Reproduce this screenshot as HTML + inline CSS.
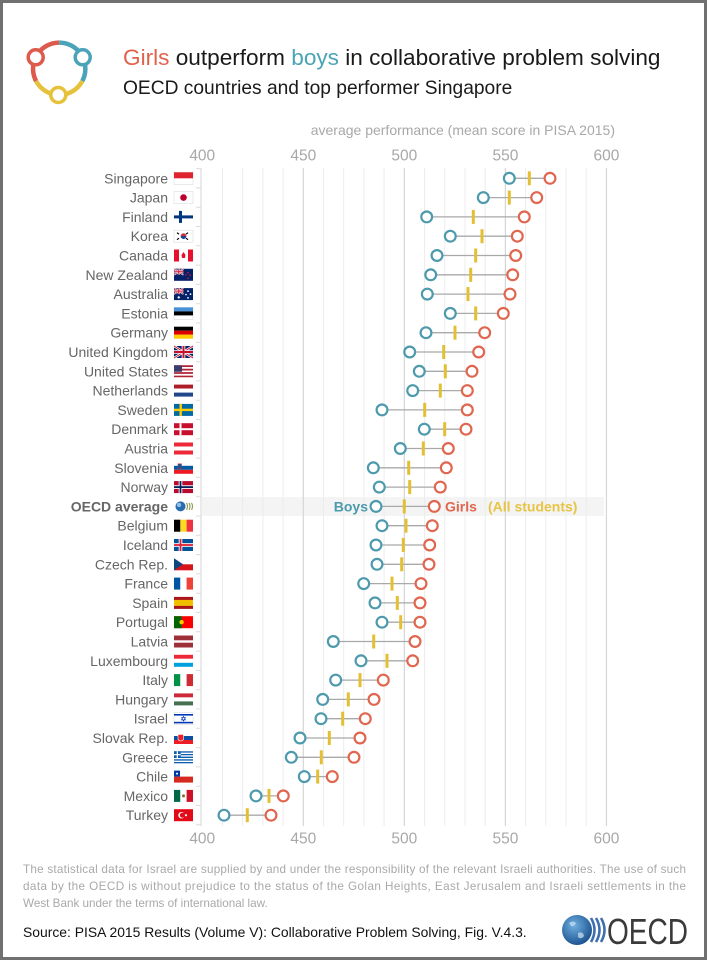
<!DOCTYPE html>
<html><head><meta charset="utf-8"><style>
html,body{margin:0;padding:0;background:#fff;}
body{width:707px;height:960px;overflow:hidden;}
svg{display:block;font-family:"Liberation Sans",Arial,sans-serif;}
.lb{font-size:14px;fill:#666;text-anchor:end;}
.ax{font-size:15.5px;fill:#a8a8a8;text-anchor:middle;}
.gm{stroke:#ececec;stroke-width:1;}
.gM{stroke:#d6d6d6;stroke-width:1.2;}
.cn{stroke:#a9a9a9;stroke-width:1.3;}
.b{fill:#fff;stroke:#4d9aad;stroke-width:2.2;}
.g{fill:#fff;stroke:#e0664f;stroke-width:2.2;}
.m{fill:#e3bf33;}
</style></head><body>
<svg width="707" height="960" viewBox="0 0 707 960" xmlns="http://www.w3.org/2000/svg">
<rect x="1.5" y="1.5" width="704" height="957" fill="#fff" stroke="#707070" stroke-width="3"/>

<!-- logo -->
<g fill="none" stroke-width="4.5">
<path d="M36.1,81.1 A26.2,26.2 0 0 1 59.2,42.6" stroke="#dd5a4c"/>
<path d="M59.2,42.6 A26.2,26.2 0 0 1 82.3,81.1" stroke="#4aa3b8"/>
<path d="M82.3,81.1 A26.2,26.2 0 0 1 36.1,81.1" stroke="#e5c23a"/>
</g>
<circle cx="35.7" cy="57.3" r="7.5" fill="#fff" stroke="#dd5a4c" stroke-width="3.5"/>
<circle cx="82.7" cy="57.3" r="7.5" fill="#fff" stroke="#4aa3b8" stroke-width="3.5"/>
<circle cx="58.3" cy="95" r="7.5" fill="#fff" stroke="#e5c23a" stroke-width="3.5"/>

<!-- titles -->
<text x="123" y="65" font-size="22.6" fill="#1a1a1a"><tspan fill="#e0624c">Girls</tspan> outperform <tspan fill="#4ba3b6">boys</tspan> in collaborative problem solving</text>
<text x="123" y="94" font-size="19.2" fill="#1a1a1a">OECD countries and top performer Singapore</text>

<text x="615" y="135" font-size="14" fill="#a8a8a8" text-anchor="end">average performance (mean score in PISA 2015)</text>
<text class="ax" x="202.25" y="160.5">400</text>
<text class="ax" x="303.3" y="160.5">450</text>
<text class="ax" x="404.35" y="160.5">500</text>
<text class="ax" x="505.4" y="160.5">550</text>
<text class="ax" x="606.45" y="160.5">600</text>
<text class="ax" x="202.25" y="843.5">400</text>
<text class="ax" x="303.3" y="843.5">450</text>
<text class="ax" x="404.35" y="843.5">500</text>
<text class="ax" x="505.4" y="843.5">550</text>
<text class="ax" x="606.45" y="843.5">600</text>

<!-- OECD band -->
<rect x="202" y="497" width="402" height="19" fill="#f4f4f4"/>

<!-- grid -->
<g>
<line class="gm" x1="222.46" y1="168" x2="222.46" y2="826"/>
<line class="gm" x1="242.67" y1="168" x2="242.67" y2="826"/>
<line class="gm" x1="262.88" y1="168" x2="262.88" y2="826"/>
<line class="gm" x1="283.09" y1="168" x2="283.09" y2="826"/>
<line class="gM" x1="303.3" y1="168" x2="303.3" y2="826"/>
<line class="gm" x1="323.5" y1="168" x2="323.5" y2="826"/>
<line class="gm" x1="343.7" y1="168" x2="343.7" y2="826"/>
<line class="gm" x1="363.9" y1="168" x2="363.9" y2="826"/>
<line class="gm" x1="384.1" y1="168" x2="384.1" y2="826"/>
<line class="gM" x1="404.35" y1="168" x2="404.35" y2="826"/>
<line class="gm" x1="424.6" y1="168" x2="424.6" y2="826"/>
<line class="gm" x1="444.8" y1="168" x2="444.8" y2="826"/>
<line class="gm" x1="465" y1="168" x2="465" y2="826"/>
<line class="gm" x1="485.2" y1="168" x2="485.2" y2="826"/>
<line class="gM" x1="505.4" y1="168" x2="505.4" y2="826"/>
<line class="gm" x1="525.6" y1="168" x2="525.6" y2="826"/>
<line class="gm" x1="545.8" y1="168" x2="545.8" y2="826"/>
<line class="gm" x1="566" y1="168" x2="566" y2="826"/>
<line class="gm" x1="586.2" y1="168" x2="586.2" y2="826"/>
<line class="gM" x1="606.45" y1="168" x2="606.45" y2="826"/>
<line x1="201" y1="168" x2="201" y2="826" stroke="#dcdcdc" stroke-width="1.2"/>
<path stroke="#dcdcdc" stroke-width="1" d="M196,168.6H201M196,187.9H201M196,207.2H201M196,226.5H201M196,245.8H201M196,265.1H201M196,284.4H201M196,303.7H201M196,323H201M196,342.3H201M196,361.6H201M196,380.9H201M196,400.2H201M196,419.5H201M196,438.8H201M196,458.1H201M196,477.4H201M196,496.7H201M196,516H201M196,535.3H201M196,554.6H201M196,573.9H201M196,593.2H201M196,612.5H201M196,631.8H201M196,651.1H201M196,670.4H201M196,689.7H201M196,709H201M196,728.3H201M196,747.6H201M196,766.9H201M196,786.2H201M196,805.5H201M196,824.8H201"/>
</g>

<!-- rows -->
<g transform="translate(0,178.3)"><text class="lb" x="168" y="5">Singapore</text>
<g transform="translate(174,-6)"><rect width="19" height="12" fill="#fff" stroke="#ddd" stroke-width="0.6"/><rect width="19" height="6" fill="#e0242f"/></g>
<line class="cn" x1="509.3" y1="0" x2="550" y2="0"/><rect class="m" x="527.8" y="-7" width="3" height="14"/><circle class="b" cx="509.3" cy="0" r="5.4"/><circle class="g" cx="550" cy="0" r="5.4"/></g>

<g transform="translate(0,197.6)"><text class="lb" x="168" y="5">Japan</text>
<g transform="translate(174,-6)"><rect width="19" height="12" fill="#fff" stroke="#ddd" stroke-width="0.6"/><circle cx="9.5" cy="6" r="3.3" fill="#bc002d"/></g>
<line class="cn" x1="483.3" y1="0" x2="536.7" y2="0"/><rect class="m" x="507.8" y="-7" width="3" height="14"/><circle class="b" cx="483.3" cy="0" r="5.4"/><circle class="g" cx="536.7" cy="0" r="5.4"/></g>

<g transform="translate(0,216.9)"><text class="lb" x="168" y="5">Finland</text>
<g transform="translate(174,-6)"><rect width="19" height="12" fill="#fff"/><rect y="4.5" width="19" height="3" fill="#003580"/><rect x="5" width="3" height="12" fill="#003580"/></g>
<line class="cn" x1="426.7" y1="0" x2="524.3" y2="0"/><rect class="m" x="471.8" y="-7" width="3" height="14"/><circle class="b" cx="426.7" cy="0" r="5.4"/><circle class="g" cx="524.3" cy="0" r="5.4"/></g>

<g transform="translate(0,236.2)"><text class="lb" x="168" y="5">Korea</text>
<g transform="translate(174,-6)"><rect width="19" height="12" fill="#fff" stroke="#ddd" stroke-width="0.6"/><circle cx="9.5" cy="6" r="2.8" fill="#0047a0"/><path d="M6.7,6A2.8,2.8 0 0 1 12.3,6Z" fill="#cd2e3a"/><path d="M3,2.5l2,1.5M14,2.5l-2,1.5M3,9.5l2,-1.5M14,9.5l-2,-1.5" stroke="#000" stroke-width="1.2"/></g>
<line class="cn" x1="450.3" y1="0" x2="517.3" y2="0"/><rect class="m" x="480.5" y="-7" width="3" height="14"/><circle class="b" cx="450.3" cy="0" r="5.4"/><circle class="g" cx="517.3" cy="0" r="5.4"/></g>

<g transform="translate(0,255.5)"><text class="lb" x="168" y="5">Canada</text>
<g transform="translate(174,-6)"><rect width="19" height="12" fill="#fff"/><rect width="5" height="12" fill="#e8112d"/><rect x="14" width="5" height="12" fill="#e8112d"/><path d="M9.5,2.5L11.5,5.5L11,8.5H8L7.5,5.5Z" fill="#e8112d"/></g>
<line class="cn" x1="437" y1="0" x2="515.7" y2="0"/><rect class="m" x="474.2" y="-7" width="3" height="14"/><circle class="b" cx="437" cy="0" r="5.4"/><circle class="g" cx="515.7" cy="0" r="5.4"/></g>

<g transform="translate(0,274.8)"><text class="lb" x="168" y="5">New Zealand</text>
<g transform="translate(174,-6)"><rect width="19" height="12" fill="#012169"/><rect width="9.5" height="6" fill="#012169"/><path d="M0,0L9.5,6M9.5,0L0,6" stroke="#fff" stroke-width="1.6"/><path d="M0,0L9.5,6M9.5,0L0,6" stroke="#c8102e" stroke-width="0.6"/><path d="M4.75,0V6M0,3H9.5" stroke="#fff" stroke-width="2"/><path d="M4.75,0V6M0,3H9.5" stroke="#c8102e" stroke-width="1"/><circle cx="14" cy="4" r="0.9" fill="#c8102e"/><circle cx="16" cy="6.5" r="0.9" fill="#c8102e"/><circle cx="14" cy="9.5" r="0.9" fill="#c8102e"/><circle cx="12" cy="6" r="0.8" fill="#c8102e"/></g>
<line class="cn" x1="430.7" y1="0" x2="512.7" y2="0"/><rect class="m" x="469.2" y="-7" width="3" height="14"/><circle class="b" cx="430.7" cy="0" r="5.4"/><circle class="g" cx="512.7" cy="0" r="5.4"/></g>

<g transform="translate(0,294.1)"><text class="lb" x="168" y="5">Australia</text>
<g transform="translate(174,-6)"><rect width="19" height="12" fill="#012169"/><path d="M0,0L9.5,6M9.5,0L0,6" stroke="#fff" stroke-width="1.6"/><path d="M0,0L9.5,6M9.5,0L0,6" stroke="#c8102e" stroke-width="0.6"/><path d="M4.75,0V6M0,3H9.5" stroke="#fff" stroke-width="2"/><path d="M4.75,0V6M0,3H9.5" stroke="#c8102e" stroke-width="1"/><circle cx="14" cy="3" r="0.9" fill="#fff"/><circle cx="16.5" cy="6" r="0.9" fill="#fff"/><circle cx="14" cy="9.8" r="0.9" fill="#fff"/><circle cx="12" cy="6.5" r="0.8" fill="#fff"/><circle cx="4.75" cy="9.3" r="1.2" fill="#fff"/></g>
<line class="cn" x1="427.3" y1="0" x2="510" y2="0"/><rect class="m" x="466.5" y="-7" width="3" height="14"/><circle class="b" cx="427.3" cy="0" r="5.4"/><circle class="g" cx="510" cy="0" r="5.4"/></g>

<g transform="translate(0,313.4)"><text class="lb" x="168" y="5">Estonia</text>
<g transform="translate(174,-6)"><rect width="19" height="12" fill="#fff" stroke="#ddd" stroke-width="0.6"/><rect width="19" height="4" fill="#4891d9"/><rect y="4" width="19" height="4" fill="#000"/></g>
<line class="cn" x1="450.3" y1="0" x2="503.3" y2="0"/><rect class="m" x="474.2" y="-7" width="3" height="14"/><circle class="b" cx="450.3" cy="0" r="5.4"/><circle class="g" cx="503.3" cy="0" r="5.4"/></g>

<g transform="translate(0,332.7)"><text class="lb" x="168" y="5">Germany</text>
<g transform="translate(174,-6)"><rect width="19" height="4" fill="#000"/><rect y="4" width="19" height="4" fill="#dd0000"/><rect y="8" width="19" height="4" fill="#ffce00"/></g>
<line class="cn" x1="426" y1="0" x2="484.7" y2="0"/><rect class="m" x="453.5" y="-7" width="3" height="14"/><circle class="b" cx="426" cy="0" r="5.4"/><circle class="g" cx="484.7" cy="0" r="5.4"/></g>

<g transform="translate(0,352)"><text class="lb" x="168" y="5">United Kingdom</text>
<g transform="translate(174,-6)"><rect width="19" height="12" fill="#012169"/><path d="M0,0L19,12M19,0L0,12" stroke="#fff" stroke-width="2.4"/><path d="M0,0L19,12M19,0L0,12" stroke="#c8102e" stroke-width="0.9"/><path d="M9.5,0V12M0,6H19" stroke="#fff" stroke-width="3.6"/><path d="M9.5,0V12M0,6H19" stroke="#c8102e" stroke-width="2"/></g>
<line class="cn" x1="409.7" y1="0" x2="478.7" y2="0"/><rect class="m" x="442.2" y="-7" width="3" height="14"/><circle class="b" cx="409.7" cy="0" r="5.4"/><circle class="g" cx="478.7" cy="0" r="5.4"/></g>

<g transform="translate(0,371.3)"><text class="lb" x="168" y="5">United States</text>
<g transform="translate(174,-6)"><rect width="19" height="12" fill="#fff"/><path d="M0,0.85H19M0,4.3H19M0,7.7H19M0,11.15H19" stroke="#b22234" stroke-width="1.7"/><rect width="8" height="6.5" fill="#3c3b6e"/></g>
<line class="cn" x1="419.3" y1="0" x2="472" y2="0"/><rect class="m" x="443.8" y="-7" width="3" height="14"/><circle class="b" cx="419.3" cy="0" r="5.4"/><circle class="g" cx="472" cy="0" r="5.4"/></g>

<g transform="translate(0,390.6)"><text class="lb" x="168" y="5">Netherlands</text>
<g transform="translate(174,-6)"><rect width="19" height="4" fill="#ae1c28"/><rect y="4" width="19" height="4" fill="#fff"/><rect y="8" width="19" height="4" fill="#21468b"/></g>
<line class="cn" x1="412.7" y1="0" x2="467.3" y2="0"/><rect class="m" x="438.8" y="-7" width="3" height="14"/><circle class="b" cx="412.7" cy="0" r="5.4"/><circle class="g" cx="467.3" cy="0" r="5.4"/></g>

<g transform="translate(0,409.9)"><text class="lb" x="168" y="5">Sweden</text>
<g transform="translate(174,-6)"><rect width="19" height="12" fill="#006aa7"/><rect y="4.8" width="19" height="2.4" fill="#fecc00"/><rect x="5.5" width="2.4" height="12" fill="#fecc00"/></g>
<line class="cn" x1="382" y1="0" x2="467.3" y2="0"/><rect class="m" x="423.2" y="-7" width="3" height="14"/><circle class="b" cx="382" cy="0" r="5.4"/><circle class="g" cx="467.3" cy="0" r="5.4"/></g>

<g transform="translate(0,429.2)"><text class="lb" x="168" y="5">Denmark</text>
<g transform="translate(174,-6)"><rect width="19" height="12" fill="#c8102e"/><rect y="5" width="19" height="2" fill="#fff"/><rect x="5.5" width="2" height="12" fill="#fff"/></g>
<line class="cn" x1="424.3" y1="0" x2="466" y2="0"/><rect class="m" x="443.2" y="-7" width="3" height="14"/><circle class="b" cx="424.3" cy="0" r="5.4"/><circle class="g" cx="466" cy="0" r="5.4"/></g>

<g transform="translate(0,448.5)"><text class="lb" x="168" y="5">Austria</text>
<g transform="translate(174,-6)"><rect width="19" height="12" fill="#ed2939"/><rect y="4" width="19" height="4" fill="#fff"/></g>
<line class="cn" x1="400.3" y1="0" x2="448.3" y2="0"/><rect class="m" x="421.8" y="-7" width="3" height="14"/><circle class="b" cx="400.3" cy="0" r="5.4"/><circle class="g" cx="448.3" cy="0" r="5.4"/></g>

<g transform="translate(0,467.8)"><text class="lb" x="168" y="5">Slovenia</text>
<g transform="translate(174,-6)"><rect width="19" height="4" fill="#fff"/><rect y="4" width="19" height="4" fill="#005da4"/><rect y="8" width="19" height="4" fill="#ed1c24"/><rect x="4" y="2" width="3.5" height="4.5" fill="#005da4" stroke="#ed1c24" stroke-width="0.5"/></g>
<line class="cn" x1="373.3" y1="0" x2="446.3" y2="0"/><rect class="m" x="407.2" y="-7" width="3" height="14"/><circle class="b" cx="373.3" cy="0" r="5.4"/><circle class="g" cx="446.3" cy="0" r="5.4"/></g>

<g transform="translate(0,487.1)"><text class="lb" x="168" y="5">Norway</text>
<g transform="translate(174,-6)"><rect width="19" height="12" fill="#ba0c2f"/><rect y="4.2" width="19" height="3.6" fill="#fff"/><rect x="4.7" width="3.6" height="12" fill="#fff"/><rect y="5.1" width="19" height="1.8" fill="#00205b"/><rect x="5.6" width="1.8" height="12" fill="#00205b"/></g>
<line class="cn" x1="379.3" y1="0" x2="440.3" y2="0"/><rect class="m" x="408.2" y="-7" width="3" height="14"/><circle class="b" cx="379.3" cy="0" r="5.4"/><circle class="g" cx="440.3" cy="0" r="5.4"/></g>

<g transform="translate(0,506.4)"><text class="lb" x="168" y="5" font-weight="bold">OECD average</text>
<g transform="translate(174,-6)"><circle cx="6.5" cy="6" r="5" fill="#2a6cb0"/><circle cx="5" cy="4.5" r="2.2" fill="#8fc1e8"/><path d="M12.5,2.5Q14.5,6 12.5,9.5M15,2.5Q17,6 15,9.5M17.5,2.5Q19.5,6 17.5,9.5" fill="none" stroke="#8a9a4a" stroke-width="1.1"/></g>
<text x="368" y="5" font-size="14" font-weight="bold" fill="#4d9aad" text-anchor="end">Boys</text>
<text x="445" y="5" font-size="14" font-weight="bold" fill="#e0664f">Girls</text>
<text x="488" y="5" font-size="14" font-weight="bold" fill="#e6c444">(All students)</text>
<line class="cn" x1="376" y1="0" x2="434.3" y2="0"/><rect class="m" x="402.8" y="-7" width="3" height="14"/><circle class="b" cx="376" cy="0" r="5.4"/><circle class="g" cx="434.3" cy="0" r="5.4"/></g>

<g transform="translate(0,525.7)"><text class="lb" x="168" y="5">Belgium</text>
<g transform="translate(174,-6)"><rect width="6.4" height="12" fill="#000"/><rect x="6.3" width="6.4" height="12" fill="#fdda24"/><rect x="12.6" width="6.4" height="12" fill="#ef3340"/></g>
<line class="cn" x1="382" y1="0" x2="432.3" y2="0"/><rect class="m" x="404.5" y="-7" width="3" height="14"/><circle class="b" cx="382" cy="0" r="5.4"/><circle class="g" cx="432.3" cy="0" r="5.4"/></g>

<g transform="translate(0,545)"><text class="lb" x="168" y="5">Iceland</text>
<g transform="translate(174,-6)"><rect width="19" height="12" fill="#02529c"/><rect y="4.2" width="19" height="3.6" fill="#fff"/><rect x="4.7" width="3.6" height="12" fill="#fff"/><rect y="5.1" width="19" height="1.8" fill="#dc1e35"/><rect x="5.6" width="1.8" height="12" fill="#dc1e35"/></g>
<line class="cn" x1="376" y1="0" x2="429.7" y2="0"/><rect class="m" x="401.8" y="-7" width="3" height="14"/><circle class="b" cx="376" cy="0" r="5.4"/><circle class="g" cx="429.7" cy="0" r="5.4"/></g>

<g transform="translate(0,564.3)"><text class="lb" x="168" y="5">Czech Rep.</text>
<g transform="translate(174,-6)"><rect width="19" height="6" fill="#fff"/><rect y="6" width="19" height="6" fill="#d7141a"/><path d="M0,0L9,6L0,12Z" fill="#11457e"/></g>
<line class="cn" x1="377" y1="0" x2="429" y2="0"/><rect class="m" x="400.2" y="-7" width="3" height="14"/><circle class="b" cx="377" cy="0" r="5.4"/><circle class="g" cx="429" cy="0" r="5.4"/></g>

<g transform="translate(0,583.6)"><text class="lb" x="168" y="5">France</text>
<g transform="translate(174,-6)"><rect width="6.4" height="12" fill="#0055a4"/><rect x="6.3" width="6.4" height="12" fill="#fff"/><rect x="12.6" width="6.4" height="12" fill="#ef4135"/></g>
<line class="cn" x1="363.7" y1="0" x2="421" y2="0"/><rect class="m" x="390.5" y="-7" width="3" height="14"/><circle class="b" cx="363.7" cy="0" r="5.4"/><circle class="g" cx="421" cy="0" r="5.4"/></g>

<g transform="translate(0,602.9)"><text class="lb" x="168" y="5">Spain</text>
<g transform="translate(174,-6)"><rect width="19" height="12" fill="#aa151b"/><rect y="3" width="19" height="6" fill="#f1bf00"/></g>
<line class="cn" x1="375" y1="0" x2="420" y2="0"/><rect class="m" x="395.8" y="-7" width="3" height="14"/><circle class="b" cx="375" cy="0" r="5.4"/><circle class="g" cx="420" cy="0" r="5.4"/></g>

<g transform="translate(0,622.2)"><text class="lb" x="168" y="5">Portugal</text>
<g transform="translate(174,-6)"><rect width="19" height="12" fill="#ff0000"/><rect width="7.6" height="12" fill="#006600"/><circle cx="7.6" cy="6" r="2.2" fill="#ffcc00"/></g>
<line class="cn" x1="382" y1="0" x2="420" y2="0"/><rect class="m" x="399.2" y="-7" width="3" height="14"/><circle class="b" cx="382" cy="0" r="5.4"/><circle class="g" cx="420" cy="0" r="5.4"/></g>

<g transform="translate(0,641.5)"><text class="lb" x="168" y="5">Latvia</text>
<g transform="translate(174,-6)"><rect width="19" height="12" fill="#9e3039"/><rect y="4.8" width="19" height="2.4" fill="#fff"/></g>
<line class="cn" x1="333.3" y1="0" x2="415" y2="0"/><rect class="m" x="372.2" y="-7" width="3" height="14"/><circle class="b" cx="333.3" cy="0" r="5.4"/><circle class="g" cx="415" cy="0" r="5.4"/></g>

<g transform="translate(0,660.8)"><text class="lb" x="168" y="5">Luxembourg</text>
<g transform="translate(174,-6)"><rect width="19" height="4" fill="#ed2939"/><rect y="4" width="19" height="4" fill="#fff"/><rect y="8" width="19" height="4" fill="#00a1de"/></g>
<line class="cn" x1="361" y1="0" x2="412.7" y2="0"/><rect class="m" x="385.5" y="-7" width="3" height="14"/><circle class="b" cx="361" cy="0" r="5.4"/><circle class="g" cx="412.7" cy="0" r="5.4"/></g>

<g transform="translate(0,680.1)"><text class="lb" x="168" y="5">Italy</text>
<g transform="translate(174,-6)"><rect width="6.4" height="12" fill="#009246"/><rect x="6.3" width="6.4" height="12" fill="#fff"/><rect x="12.6" width="6.4" height="12" fill="#ce2b37"/></g>
<line class="cn" x1="335.7" y1="0" x2="383.3" y2="0"/><rect class="m" x="358.5" y="-7" width="3" height="14"/><circle class="b" cx="335.7" cy="0" r="5.4"/><circle class="g" cx="383.3" cy="0" r="5.4"/></g>

<g transform="translate(0,699.4)"><text class="lb" x="168" y="5">Hungary</text>
<g transform="translate(174,-6)"><rect width="19" height="4" fill="#ce2939"/><rect y="4" width="19" height="4" fill="#fff"/><rect y="8" width="19" height="4" fill="#477050"/></g>
<line class="cn" x1="322.7" y1="0" x2="374" y2="0"/><rect class="m" x="346.8" y="-7" width="3" height="14"/><circle class="b" cx="322.7" cy="0" r="5.4"/><circle class="g" cx="374" cy="0" r="5.4"/></g>

<g transform="translate(0,718.7)"><text class="lb" x="168" y="5">Israel</text>
<g transform="translate(174,-6)"><rect width="19" height="12" fill="#fff" stroke="#ddd" stroke-width="0.6"/><rect y="1.3" width="19" height="1.6" fill="#0038b8"/><rect y="9.1" width="19" height="1.6" fill="#0038b8"/><path d="M9.5,3.6L11.5,7.2H7.5ZM9.5,8.4L11.5,4.8H7.5Z" fill="none" stroke="#0038b8" stroke-width="0.6"/></g>
<line class="cn" x1="321" y1="0" x2="365.3" y2="0"/><rect class="m" x="341.2" y="-7" width="3" height="14"/><circle class="b" cx="321" cy="0" r="5.4"/><circle class="g" cx="365.3" cy="0" r="5.4"/></g>

<g transform="translate(0,738)"><text class="lb" x="168" y="5">Slovak Rep.</text>
<g transform="translate(174,-6)"><rect width="19" height="4" fill="#fff"/><rect y="4" width="19" height="4" fill="#0b4ea2"/><rect y="8" width="19" height="4" fill="#ee1c25"/><path d="M4,2.5H9.5V7.5Q6.75,10.5 4,7.5Z" fill="#ee1c25" stroke="#fff" stroke-width="0.6"/></g>
<line class="cn" x1="300" y1="0" x2="360" y2="0"/><rect class="m" x="327.8" y="-7" width="3" height="14"/><circle class="b" cx="300" cy="0" r="5.4"/><circle class="g" cx="360" cy="0" r="5.4"/></g>

<g transform="translate(0,757.3)"><text class="lb" x="168" y="5">Greece</text>
<g transform="translate(174,-6)"><rect width="19" height="12" fill="#0d5eaf"/><path d="M0,2H19M0,4.67H19M0,7.33H19M0,10H19" stroke="#fff" stroke-width="1.33"/><rect width="6.7" height="6.7" fill="#0d5eaf"/><path d="M3.35,0V6.7M0,3.35H6.7" stroke="#fff" stroke-width="1.3"/></g>
<line class="cn" x1="291.3" y1="0" x2="354" y2="0"/><rect class="m" x="319.8" y="-7" width="3" height="14"/><circle class="b" cx="291.3" cy="0" r="5.4"/><circle class="g" cx="354" cy="0" r="5.4"/></g>

<g transform="translate(0,776.6)"><text class="lb" x="168" y="5">Chile</text>
<g transform="translate(174,-6)"><rect width="19" height="6" fill="#fff"/><rect y="6" width="19" height="6" fill="#d52b1e"/><rect width="6" height="6" fill="#0039a6"/><circle cx="3" cy="3" r="1" fill="#fff"/></g>
<line class="cn" x1="304.3" y1="0" x2="332.3" y2="0"/><rect class="m" x="316.2" y="-7" width="3" height="14"/><circle class="b" cx="304.3" cy="0" r="5.4"/><circle class="g" cx="332.3" cy="0" r="5.4"/></g>

<g transform="translate(0,795.9)"><text class="lb" x="168" y="5">Mexico</text>
<g transform="translate(174,-6)"><rect width="6.4" height="12" fill="#006847"/><rect x="6.3" width="6.4" height="12" fill="#fff"/><rect x="12.6" width="6.4" height="12" fill="#ce1126"/><circle cx="9.5" cy="6" r="1.5" fill="#8a6a2a"/></g>
<line class="cn" x1="256" y1="0" x2="283.3" y2="0"/><rect class="m" x="267.5" y="-7" width="3" height="14"/><circle class="b" cx="256" cy="0" r="5.4"/><circle class="g" cx="283.3" cy="0" r="5.4"/></g>

<g transform="translate(0,815.2)"><text class="lb" x="168" y="5">Turkey</text>
<g transform="translate(174,-6)"><rect width="19" height="12" fill="#e30a17"/><circle cx="7.5" cy="6" r="3.2" fill="#fff"/><circle cx="8.4" cy="6" r="2.5" fill="#e30a17"/><circle cx="12" cy="6" r="1.1" fill="#fff"/></g>
<line class="cn" x1="224" y1="0" x2="271" y2="0"/><rect class="m" x="245.8" y="-7" width="3" height="14"/><circle class="b" cx="224" cy="0" r="5.4"/><circle class="g" cx="271" cy="0" r="5.4"/></g>

<!-- footer -->
<text x="23" y="873" font-size="11.7" fill="#a9a9a9" textLength="663" lengthAdjust="spacing">The statistical data for Israel are supplied by and under the responsibility of the relevant Israeli authorities. The use of such</text>
<text x="23" y="890" font-size="11.7" fill="#a9a9a9" textLength="663" lengthAdjust="spacing">data by the OECD is without prejudice to the status of the Golan Heights, East Jerusalem and Israeli settlements in the</text>
<text x="23" y="907" font-size="11.7" fill="#a9a9a9">West Bank under the terms of international law.</text>
<text x="23" y="937" font-size="13.9" fill="#111">Source: PISA 2015 Results (Volume V): Collaborative Problem Solving, Fig. V.4.3.</text>

<!-- OECD logo -->
<defs><radialGradient id="gl" cx="0.4" cy="0.35" r="0.7"><stop offset="0" stop-color="#6fb0e0"/><stop offset="1" stop-color="#174e8c"/></radialGradient></defs>
<circle cx="577" cy="930" r="15" fill="url(#gl)"/>
<path d="M569,923q4,-3 7,0q-2,4 -5,3zM578,933q5,-2 6,3q-3,4 -6,1z" fill="#cfe3f2" opacity="0.7"/>
<path d="M591,918Q598,930 591,942M596,918Q603,930 596,942M601,918Q608,930 601,942" fill="none" stroke="#3f6fae" stroke-width="2.6"/>
<text x="607" y="944" font-size="36" fill="#3a3a3a" textLength="81" lengthAdjust="spacingAndGlyphs">OECD</text>
</svg>
</body></html>
